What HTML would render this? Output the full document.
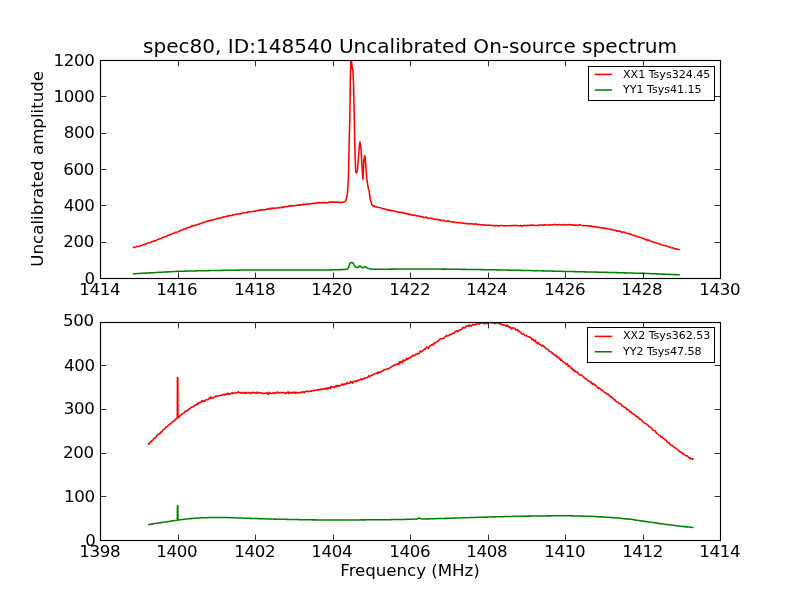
<!DOCTYPE html>
<html><head><meta charset="utf-8"><title>spec80</title>
<style>html,body{margin:0;padding:0;background:#fff;overflow:hidden}svg{display:block}text{font-family:"DejaVu Sans","Liberation Sans",sans-serif;fill:#000}</style></head><body>
<svg width="800" height="600" viewBox="0 0 800 600">
<rect width="800" height="600" fill="#fff"/>
<clipPath id="c1"><rect x="100.50" y="60.50" width="620.00" height="218.00"/></clipPath>
<g clip-path="url(#c1)" fill="none" stroke-width="1.55" stroke-linejoin="round" stroke-linecap="square">
<polyline stroke="#f00" points="133.50,247.49 134.30,247.47 135.10,247.12 135.90,246.89 136.70,246.55 137.50,246.49 138.30,246.56 139.11,246.19 139.91,246.09 140.71,245.68 141.51,245.46 142.31,245.17 143.11,244.51 143.91,244.80 144.71,244.46 145.51,244.19 146.31,243.44 147.11,243.15 147.91,243.06 148.71,242.87 149.52,242.75 150.32,242.38 151.12,242.22 151.92,241.66 152.72,241.57 153.52,241.29 154.32,240.76 155.12,240.97 155.92,240.41 156.72,240.24 157.52,239.53 158.32,239.19 159.12,238.97 159.93,238.70 160.73,238.55 161.53,238.15 162.33,237.68 163.13,237.24 163.93,237.02 164.73,237.08 165.53,236.32 166.33,236.23 167.13,235.95 167.93,235.20 168.73,235.22 169.53,235.18 170.34,234.13 171.14,234.18 171.94,233.91 172.74,233.43 173.54,233.40 174.34,232.96 175.14,232.34 175.94,232.53 176.74,232.18 177.54,231.93 178.34,231.72 179.14,231.17 179.94,230.81 180.75,230.19 181.55,230.31 182.35,229.73 183.15,229.46 183.95,228.98 184.75,228.75 185.55,228.54 186.35,228.65 187.15,227.62 187.95,227.46 188.75,227.54 189.55,227.51 190.35,227.04 191.15,226.21 191.96,225.79 192.76,226.14 193.56,225.62 194.36,225.26 195.16,225.45 195.96,225.20 196.76,224.72 197.56,224.48 198.36,224.25 199.16,224.25 199.96,223.77 200.76,223.49 201.56,223.24 202.37,222.52 203.17,222.90 203.97,222.58 204.77,222.24 205.57,221.44 206.37,221.50 207.17,221.58 207.97,220.76 208.77,220.89 209.57,220.92 210.37,220.18 211.17,220.60 211.97,220.14 212.78,219.76 213.58,219.65 214.38,219.50 215.18,219.17 215.98,219.19 216.78,218.58 217.58,218.43 218.38,218.54 219.18,218.12 219.98,217.72 220.78,217.92 221.58,217.84 222.38,217.22 223.19,216.83 223.99,216.91 224.79,216.72 225.59,216.50 226.39,216.70 227.19,215.98 227.99,216.31 228.79,215.57 229.59,215.50 230.39,215.64 231.19,215.58 231.99,215.35 232.79,215.08 233.60,214.87 234.40,214.71 235.20,214.64 236.00,214.31 236.80,214.26 237.60,214.16 238.40,213.89 239.20,213.90 240.00,213.71 240.80,213.88 241.60,213.36 242.40,213.05 243.20,212.91 244.01,212.85 244.81,212.91 245.61,212.50 246.41,212.52 247.21,212.70 248.01,211.59 248.81,211.78 249.61,211.94 250.41,211.85 251.21,211.68 252.01,211.40 252.81,211.51 253.61,211.30 254.42,211.00 255.22,211.52 256.02,210.94 256.82,210.62 257.62,210.59 258.42,210.44 259.22,210.36 260.02,209.65 260.82,210.02 261.62,210.23 262.42,209.64 263.22,209.76 264.02,209.87 264.83,209.73 265.63,209.76 266.43,208.94 267.23,209.12 268.03,209.01 268.83,209.11 269.63,209.10 270.43,208.16 271.23,208.88 272.03,208.21 272.83,208.57 273.63,207.98 274.43,208.23 275.24,208.35 276.04,207.94 276.84,207.91 277.64,207.93 278.44,207.68 279.24,207.52 280.04,207.77 280.84,207.56 281.64,207.16 282.44,207.72 283.24,206.76 284.04,207.11 284.84,206.74 285.65,206.72 286.45,206.75 287.25,206.54 288.05,206.52 288.85,205.94 289.65,205.84 290.45,206.21 291.25,205.76 292.05,205.64 292.85,205.44 293.65,205.94 294.45,205.73 295.25,205.79 296.05,205.16 296.86,205.27 297.66,204.92 298.46,205.24 299.26,205.32 300.06,204.68 300.86,205.12 301.66,204.90 302.46,204.55 303.26,204.06 304.06,204.71 304.86,204.29 305.66,204.09 306.46,204.22 307.27,204.13 308.07,204.28 308.87,203.64 309.67,204.03 310.47,204.02 311.27,203.93 312.07,203.49 312.87,203.29 313.67,203.60 314.47,203.32 315.27,203.25 316.07,203.46 316.87,203.02 317.68,202.50 318.48,202.86 319.28,202.47 320.08,202.99 320.88,202.82 321.68,202.56 322.48,202.64 323.28,202.77 324.08,202.55 324.88,202.78 325.68,202.43 326.48,202.63 327.28,202.69 328.09,202.68 328.89,202.15 329.69,202.46 330.49,201.83 331.29,201.99 332.09,201.78 332.89,202.43 333.69,201.92 334.49,202.18 335.29,202.14 336.09,202.19 336.89,202.07 337.69,202.27 338.50,202.63 339.30,202.28 340.10,202.41 340.90,202.56 341.70,202.34 342.50,202.15 343.30,202.36 345.80,200.80 347.30,195.00 348.40,178.30 349.30,136.70 349.80,120.00 350.40,75.00 351.00,58.00 351.60,61.00 352.20,68.50 352.90,69.50 353.60,85.00 354.30,120.00 355.00,153.30 355.70,171.70 356.30,173.00 357.50,170.00 358.70,153.30 359.60,143.80 360.00,142.00 360.40,143.80 361.30,153.30 362.70,178.30 363.00,179.20 363.70,161.70 364.40,156.70 364.70,155.60 365.00,156.70 365.50,161.70 366.70,178.30 368.30,188.30 369.20,190.80 370.00,198.30 371.70,204.20 373.30,206.24 374.10,205.86 374.90,206.31 375.70,206.88 376.50,207.06 377.30,207.11 378.10,207.51 378.90,207.60 379.70,207.54 380.50,207.70 381.30,208.15 382.10,208.74 382.90,208.65 383.70,208.82 384.50,209.07 385.30,209.12 386.10,209.63 386.90,209.59 387.70,210.10 388.50,209.66 389.31,210.41 390.11,210.35 390.91,210.21 391.71,210.94 392.51,210.85 393.31,210.56 394.11,210.99 394.91,211.37 395.71,211.34 396.51,211.75 397.31,211.88 398.11,212.00 398.91,212.07 399.71,212.44 400.51,212.44 401.31,212.56 402.11,212.16 402.91,212.98 403.71,213.23 404.51,213.05 405.31,213.18 406.11,213.88 406.91,213.24 407.71,213.90 408.51,214.51 409.31,213.94 410.11,214.47 410.91,214.91 411.71,214.65 412.51,214.97 413.31,215.22 414.11,214.99 414.91,215.34 415.71,215.59 416.51,215.88 417.31,215.86 418.11,215.98 418.91,215.96 419.72,216.27 420.52,216.70 421.32,216.68 422.12,216.62 422.92,216.78 423.72,217.70 424.52,217.52 425.32,217.56 426.12,217.00 426.92,217.85 427.72,217.97 428.52,218.38 429.32,218.25 430.12,218.29 430.92,218.56 431.72,218.16 432.52,218.96 433.32,218.95 434.12,218.86 434.92,219.45 435.72,219.69 436.52,219.12 437.32,219.41 438.12,219.76 438.92,219.87 439.72,219.87 440.52,219.87 441.32,220.68 442.12,220.57 442.92,220.21 443.72,220.30 444.52,221.10 445.32,221.07 446.12,221.38 446.92,221.29 447.72,221.04 448.52,221.42 449.32,221.01 450.13,221.44 450.93,221.71 451.73,221.95 452.53,221.79 453.33,222.04 454.13,222.28 454.93,222.37 455.73,222.53 456.53,222.54 457.33,222.52 458.13,222.86 458.93,222.79 459.73,222.69 460.53,222.82 461.33,223.04 462.13,223.10 462.93,223.24 463.73,223.28 464.53,223.40 465.33,223.41 466.13,223.24 466.93,223.68 467.73,223.89 468.53,223.83 469.33,223.76 470.13,223.97 470.93,223.73 471.73,223.59 472.53,224.08 473.33,223.93 474.13,224.36 474.93,224.01 475.73,223.73 476.53,224.14 477.33,224.77 478.13,224.39 478.93,224.23 479.73,224.42 480.54,224.75 481.34,224.79 482.14,224.78 482.94,225.12 483.74,225.00 484.54,224.89 485.34,225.08 486.14,225.36 486.94,225.26 487.74,225.32 488.54,224.91 489.34,225.16 490.14,225.40 490.94,225.22 491.74,225.56 492.54,225.50 493.34,225.61 494.14,225.40 494.94,226.04 495.74,225.78 496.54,225.48 497.34,225.57 498.14,226.14 498.94,225.51 499.74,225.79 500.54,225.82 501.34,225.61 502.14,225.36 502.94,225.67 503.74,225.71 504.54,225.89 505.34,225.82 506.14,225.65 506.94,225.84 507.74,225.78 508.54,225.71 509.34,225.68 510.14,225.62 510.95,225.83 511.75,225.45 512.55,225.55 513.35,225.69 514.15,225.37 514.95,225.60 515.75,225.25 516.55,225.55 517.35,225.82 518.15,225.82 518.95,225.69 519.75,225.65 520.55,225.39 521.35,226.10 522.15,225.80 522.95,225.92 523.75,225.47 524.55,225.61 525.35,225.23 526.15,225.79 526.95,225.80 527.75,225.16 528.55,225.54 529.35,225.66 530.15,225.11 530.95,225.07 531.75,225.21 532.55,225.28 533.35,225.09 534.15,225.38 534.95,225.40 535.75,225.46 536.55,225.45 537.35,225.60 538.15,225.50 538.95,224.94 539.75,225.09 540.55,224.95 541.35,224.93 542.16,225.13 542.96,225.13 543.76,225.22 544.56,224.74 545.36,224.79 546.16,225.04 546.96,224.98 547.76,224.93 548.56,224.97 549.36,224.79 550.16,225.09 550.96,225.00 551.76,224.88 552.56,224.74 553.36,224.83 554.16,224.26 554.96,224.63 555.76,224.84 556.56,224.49 557.36,224.86 558.16,224.84 558.96,224.50 559.76,224.74 560.56,224.73 561.36,224.90 562.16,224.94 562.96,224.80 563.76,224.63 564.56,224.79 565.36,224.82 566.16,225.01 566.96,224.92 567.76,224.71 568.56,224.59 569.36,224.82 570.16,224.76 570.96,224.69 571.76,224.93 572.57,224.87 573.37,225.02 574.17,225.13 574.97,224.95 575.77,225.58 576.57,225.02 577.37,225.36 578.17,225.17 578.97,225.41 579.77,224.67 580.57,225.06 581.37,225.31 582.17,225.43 582.97,225.87 583.77,225.48 584.57,225.76 585.37,225.71 586.17,225.83 586.97,225.82 587.77,225.76 588.57,225.99 589.37,225.74 590.17,226.34 590.97,225.96 591.77,226.34 592.57,226.87 593.37,226.46 594.17,226.63 594.97,227.00 595.77,226.87 596.57,226.81 597.37,227.17 598.17,227.36 598.97,227.51 599.77,227.31 600.57,227.99 601.37,228.09 602.17,227.85 602.98,228.03 603.78,228.00 604.58,228.54 605.38,228.21 606.18,228.65 606.98,228.54 607.78,228.63 608.58,229.09 609.38,229.38 610.18,229.24 610.98,229.25 611.78,229.74 612.58,229.72 613.38,229.97 614.18,230.41 614.98,230.50 615.78,230.31 616.58,231.11 617.38,230.79 618.18,231.14 618.98,231.02 619.78,231.34 620.58,231.16 621.38,232.13 622.18,232.24 622.98,231.89 623.78,232.04 624.58,232.24 625.38,233.08 626.18,232.95 626.98,233.27 627.78,233.45 628.58,233.73 629.38,233.77 630.18,234.26 630.98,234.19 631.78,234.74 632.58,235.08 633.39,235.37 634.19,235.47 634.99,235.58 635.79,236.07 636.59,236.19 637.39,236.90 638.19,236.99 638.99,237.05 639.79,237.23 640.59,237.44 641.39,237.65 642.19,238.04 642.99,238.45 643.79,238.78 644.59,239.07 645.39,239.68 646.19,239.35 646.99,239.79 647.79,240.68 648.59,239.94 649.39,240.52 650.19,240.96 650.99,241.23 651.79,241.57 652.59,241.71 653.39,242.12 654.19,242.32 654.99,242.75 655.79,242.43 656.59,242.91 657.39,243.37 658.19,243.39 658.99,243.64 659.79,244.25 660.59,244.22 661.39,244.74 662.19,245.01 662.99,245.15 663.80,245.43 664.60,245.53 665.40,245.48 666.20,246.02 667.00,246.35 667.80,246.37 668.60,246.69 669.40,247.11 670.20,246.98 671.00,247.54 671.80,248.04 672.60,247.73 673.40,248.11 674.20,248.26 675.00,248.86 675.80,248.81 676.60,249.15 677.40,249.02 678.20,249.38 679.00,249.60"/>
<polyline stroke="#008000" points="133.50,273.80 135.51,273.68 137.53,273.57 139.54,273.45 141.56,273.34 143.57,273.23 145.59,273.12 147.60,273.00 149.61,272.89 151.63,272.78 153.64,272.67 155.66,272.56 157.67,272.45 159.69,272.34 161.70,272.22 163.71,272.10 165.73,271.98 167.74,271.87 169.76,271.76 171.77,271.65 173.79,271.55 175.80,271.46 177.81,271.38 179.83,271.31 181.84,271.24 183.86,271.18 185.87,271.12 187.89,271.07 189.90,271.01 191.91,270.96 193.93,270.91 195.94,270.86 197.96,270.82 199.97,270.78 201.99,270.73 204.00,270.69 206.01,270.66 208.03,270.62 210.04,270.58 212.06,270.55 214.07,270.52 216.09,270.48 218.10,270.45 220.11,270.41 222.13,270.38 224.14,270.35 226.16,270.31 228.17,270.28 230.19,270.24 232.20,270.21 234.21,270.18 236.23,270.15 238.24,270.12 240.26,270.10 242.27,270.07 244.29,270.05 246.30,270.04 248.31,270.02 250.33,270.01 252.34,270.00 254.36,270.00 256.37,270.00 258.39,270.00 260.40,270.00 262.41,270.00 264.43,270.00 266.44,270.00 268.46,270.00 270.47,270.00 272.49,270.00 274.50,270.00 276.51,270.00 278.53,270.00 280.54,270.00 282.56,270.00 284.57,270.00 286.59,270.00 288.60,270.00 290.61,270.00 292.63,270.00 294.64,270.00 296.66,270.00 298.67,270.00 300.69,270.00 302.70,270.00 304.71,270.00 306.73,270.00 308.74,270.00 310.76,270.00 312.77,270.00 314.79,270.00 316.80,270.00 318.81,270.00 320.83,270.00 322.84,269.99 324.86,269.97 326.87,269.95 328.89,269.92 330.90,269.88 332.91,269.84 334.93,269.79 336.94,269.74 338.96,269.68 340.97,269.62 342.99,269.56 345.00,269.50 347.50,269.00 348.80,266.90 350.00,263.10 351.30,262.50 353.10,262.90 354.40,265.60 356.30,267.50 358.10,267.30 360.00,266.00 361.90,267.30 363.10,268.00 364.80,266.50 366.90,267.80 370.00,269.10 372.50,269.35 374.50,269.32 376.51,269.29 378.51,269.27 380.51,269.24 382.52,269.22 384.52,269.19 386.52,269.17 388.53,269.15 390.53,269.13 392.53,269.11 394.54,269.10 396.54,269.08 398.54,269.07 400.55,269.06 402.55,269.05 404.55,269.04 406.56,269.03 408.56,269.02 410.56,269.01 412.57,269.01 414.57,269.00 416.57,269.00 418.58,269.00 420.58,269.00 422.58,269.00 424.58,269.01 426.59,269.01 428.59,269.02 430.59,269.03 432.60,269.04 434.60,269.05 436.60,269.07 438.61,269.08 440.61,269.10 442.61,269.12 444.62,269.14 446.62,269.16 448.62,269.18 450.63,269.21 452.63,269.23 454.63,269.26 456.64,269.28 458.64,269.31 460.64,269.33 462.65,269.36 464.65,269.39 466.65,269.42 468.66,269.44 470.66,269.47 472.66,269.50 474.67,269.53 476.67,269.55 478.67,269.58 480.68,269.61 482.68,269.64 484.68,269.67 486.69,269.70 488.69,269.73 490.69,269.76 492.70,269.80 494.70,269.83 496.70,269.87 498.71,269.91 500.71,269.94 502.71,269.98 504.72,270.02 506.72,270.06 508.72,270.11 510.73,270.15 512.73,270.19 514.73,270.24 516.74,270.28 518.74,270.33 520.74,270.37 522.75,270.42 524.75,270.46 526.75,270.51 528.75,270.56 530.76,270.60 532.76,270.65 534.76,270.70 536.77,270.75 538.77,270.80 540.77,270.84 542.78,270.89 544.78,270.94 546.78,270.99 548.79,271.04 550.79,271.08 552.79,271.13 554.80,271.18 556.80,271.23 558.80,271.27 560.81,271.32 562.81,271.36 564.81,271.41 566.82,271.46 568.82,271.50 570.82,271.55 572.83,271.59 574.83,271.64 576.83,271.68 578.84,271.73 580.84,271.77 582.84,271.82 584.85,271.86 586.85,271.91 588.85,271.96 590.86,272.00 592.86,272.05 594.86,272.10 596.87,272.14 598.87,272.19 600.87,272.24 602.88,272.29 604.88,272.34 606.88,272.39 608.89,272.44 610.89,272.49 612.89,272.54 614.90,272.59 616.90,272.64 618.90,272.69 620.91,272.75 622.91,272.80 624.91,272.86 626.92,272.91 628.92,272.97 630.92,273.03 632.92,273.09 634.93,273.15 636.93,273.21 638.93,273.27 640.94,273.33 642.94,273.39 644.94,273.46 646.95,273.53 648.95,273.60 650.95,273.67 652.96,273.74 654.96,273.82 656.96,273.89 658.97,273.97 660.97,274.05 662.97,274.13 664.98,274.21 666.98,274.29 668.98,274.38 670.99,274.46 672.99,274.54 674.99,274.63 677.00,274.71 679.00,274.80"/>
</g>
<path d="M178.5 278.0v-5.4M178.5 61.0v5.4M255.5 278.0v-5.4M255.5 61.0v5.4M333.5 278.0v-5.4M333.5 61.0v5.4M410.5 278.0v-5.4M410.5 61.0v5.4M488.5 278.0v-5.4M488.5 61.0v5.4M565.5 278.0v-5.4M565.5 61.0v5.4M643.5 278.0v-5.4M643.5 61.0v5.4M101.0 242.5h5.4M720.0 242.5h-5.4M101.0 205.5h5.4M720.0 205.5h-5.4M101.0 169.5h5.4M720.0 169.5h-5.4M101.0 133.5h5.4M720.0 133.5h-5.4M101.0 96.5h5.4M720.0 96.5h-5.4" stroke="#000" stroke-opacity="0.8" stroke-width="1" fill="none"/>
<rect x="100.5" y="60.5" width="620.0" height="218.0" fill="none" stroke="#000" stroke-width="1.15"/>
<g font-size="16.67" letter-spacing="-0.37" text-anchor="middle">
<text x="99.75" y="294.93">1414</text>
<text x="176.75" y="294.93">1416</text>
<text x="254.75" y="294.93">1418</text>
<text x="331.75" y="294.93">1420</text>
<text x="409.75" y="294.93">1422</text>
<text x="486.75" y="294.93">1424</text>
<text x="564.75" y="294.93">1426</text>
<text x="641.75" y="294.93">1428</text>
<text x="719.75" y="294.93">1430</text>
</g><g font-size="16.67" letter-spacing="-0.37" text-anchor="end">
<text x="94.80" y="283.88">0</text>
<text x="93.90" y="246.92">200</text>
<text x="94.40" y="210.75">400</text>
<text x="93.90" y="174.79">600</text>
<text x="94.40" y="138.43">800</text>
<text x="94.40" y="102.06">1000</text>
<text x="94.40" y="65.70">1200</text>
</g>
<rect x="588.5" y="66.5" width="126.0" height="34.0" fill="#fff" stroke="#000" stroke-width="1" shape-rendering="crispEdges"/>
<path d="M595.55 74.40h15.6" stroke="#f00" stroke-width="1.55" stroke-linecap="square"/>
<text x="623.0" y="77.80" font-size="11.06">XX1 Tsys324.45</text>
<path d="M595.55 90.05h15.6" stroke="#008000" stroke-width="1.55" stroke-linecap="square"/>
<text x="623.0" y="92.65" font-size="11.06">YY1 Tsys41.15</text>
<clipPath id="c2"><rect x="100.50" y="322.50" width="620.00" height="218.00"/></clipPath>
<g clip-path="url(#c2)" fill="none" stroke-width="1.55" stroke-linejoin="round" stroke-linecap="square">
<polyline stroke="#f00" points="148.40,443.83 149.12,444.13 149.83,443.23 150.55,441.64 151.26,441.74 151.97,440.73 152.69,440.21 153.41,439.48 154.12,438.15 154.84,437.88 155.55,437.75 156.27,436.36 156.98,435.52 157.69,434.72 158.41,434.08 159.12,433.94 159.84,433.74 160.56,432.63 161.27,431.90 161.99,431.93 162.70,430.31 163.41,429.60 164.13,429.38 164.84,428.74 165.56,427.54 166.28,426.84 166.99,426.73 167.71,426.09 168.42,424.90 169.13,424.67 169.85,423.93 170.56,423.68 171.28,422.86 172.00,422.27 172.71,421.57 173.43,421.50 174.14,421.03 174.85,419.80 175.57,419.67 176.28,418.49 177.00,418.23 177.30,417.50 177.45,377.50 177.85,377.50 178.00,417.40 178.30,417.58 179.00,417.31 179.70,416.03 180.40,415.59 181.10,415.15 181.80,413.96 182.50,414.00 183.20,413.20 183.90,413.08 184.60,411.98 185.30,411.13 186.00,411.41 186.70,410.99 187.40,410.18 188.10,410.25 188.80,409.31 189.50,408.70 190.20,408.65 190.90,407.36 191.61,407.24 192.31,407.03 193.01,406.91 193.71,406.04 194.41,405.77 195.11,404.93 195.81,404.88 196.51,405.00 197.21,403.63 197.91,404.47 198.61,402.85 199.31,402.75 200.01,402.47 200.71,402.48 201.41,401.23 202.11,400.56 202.81,401.37 203.51,401.15 204.21,400.79 204.91,401.34 205.61,400.07 206.31,399.82 207.01,399.84 207.71,399.36 208.41,399.65 209.11,398.19 209.81,398.31 210.51,396.79 211.21,398.33 211.91,397.59 212.61,397.90 213.31,398.19 214.01,397.06 214.71,396.73 215.41,396.42 216.11,396.06 216.81,395.95 217.52,396.29 218.22,395.85 218.92,395.68 219.62,395.41 220.32,395.72 221.02,395.38 221.72,394.97 222.42,395.16 223.12,394.67 223.82,394.11 224.52,395.09 225.22,394.54 225.92,393.81 226.62,394.56 227.32,394.13 228.02,393.21 228.72,394.46 229.42,393.82 230.12,393.97 230.82,393.58 231.52,393.33 232.22,392.64 232.92,393.62 233.62,393.12 234.32,392.90 235.02,393.09 235.72,392.89 236.42,393.08 237.12,392.57 237.82,392.66 238.52,391.72 239.22,392.43 239.92,392.89 240.62,393.17 241.32,392.45 242.02,392.55 242.73,393.29 243.43,392.48 244.13,392.94 244.83,393.35 245.53,392.65 246.23,393.17 246.93,392.35 247.63,392.75 248.33,392.64 249.03,392.73 249.73,393.18 250.43,393.73 251.13,392.44 251.83,392.49 252.53,392.97 253.23,392.33 253.93,393.01 254.63,393.07 255.33,392.73 256.03,393.10 256.73,392.24 257.43,393.25 258.13,392.29 258.83,392.67 259.53,392.75 260.23,392.83 260.93,393.39 261.63,393.08 262.33,392.89 263.03,393.31 263.73,393.78 264.43,393.12 265.13,393.29 265.83,393.68 266.53,393.28 267.23,392.63 267.93,394.25 268.64,394.14 269.34,392.35 270.04,393.18 270.74,393.37 271.44,393.59 272.14,393.44 272.84,393.01 273.54,392.63 274.24,393.09 274.94,393.45 275.64,392.50 276.34,392.48 277.04,392.87 277.74,392.02 278.44,392.71 279.14,392.62 279.84,392.99 280.54,392.50 281.24,392.42 281.94,392.63 282.64,392.78 283.34,392.51 284.04,392.81 284.74,393.12 285.44,393.31 286.14,393.53 286.84,392.46 287.54,392.62 288.24,391.74 288.94,393.61 289.64,392.49 290.34,392.79 291.04,393.02 291.74,392.22 292.44,393.00 293.14,392.79 293.84,392.02 294.55,392.92 295.25,393.28 295.95,391.94 296.65,393.05 297.35,392.74 298.05,392.79 298.75,392.71 299.45,393.01 300.15,392.27 300.85,392.66 301.55,392.02 302.25,392.42 302.95,391.66 303.65,391.87 304.35,392.56 305.05,391.91 305.75,391.56 306.45,391.04 307.15,391.10 307.85,391.44 308.55,391.67 309.25,391.36 309.95,391.31 310.65,390.97 311.35,391.47 312.05,390.62 312.75,390.44 313.45,390.96 314.15,390.50 314.85,390.24 315.55,390.00 316.25,390.03 316.95,390.29 317.65,390.06 318.35,389.27 319.05,389.86 319.75,389.63 320.46,389.00 321.16,389.65 321.86,389.07 322.56,388.93 323.26,389.30 323.96,389.40 324.66,388.40 325.36,388.76 326.06,388.05 326.76,389.32 327.46,387.95 328.16,388.56 328.86,387.61 329.56,388.11 330.26,388.59 330.96,386.35 331.66,387.13 332.36,387.40 333.06,386.99 333.76,386.58 334.46,387.67 335.16,386.60 335.86,385.68 336.56,386.62 337.26,385.31 337.96,386.41 338.66,385.46 339.36,385.60 340.06,385.92 340.76,385.23 341.46,384.37 342.16,384.04 342.86,385.14 343.56,384.75 344.26,383.86 344.96,384.42 345.67,384.06 346.37,383.94 347.07,382.44 347.77,383.13 348.47,383.48 349.17,383.22 349.87,383.10 350.57,381.41 351.27,382.41 351.97,382.38 352.67,383.12 353.37,381.36 354.07,381.45 354.77,381.43 355.47,381.63 356.17,380.83 356.87,381.36 357.57,380.28 358.27,380.55 358.97,379.98 359.67,380.08 360.37,379.47 361.07,378.82 361.77,379.81 362.47,379.20 363.17,378.56 363.87,378.64 364.57,378.74 365.27,377.57 365.97,377.70 366.67,377.72 367.37,377.44 368.07,376.76 368.77,375.65 369.47,376.92 370.17,376.21 370.87,375.78 371.58,375.35 372.28,375.32 372.98,374.71 373.68,374.15 374.38,374.00 375.08,373.79 375.78,373.49 376.48,372.95 377.18,373.51 377.88,372.31 378.58,372.94 379.28,371.86 379.98,372.22 380.68,372.41 381.38,371.56 382.08,370.82 382.78,370.89 383.48,370.64 384.18,369.44 384.88,369.67 385.58,369.73 386.28,369.12 386.98,369.07 387.68,369.07 388.38,368.77 389.08,368.52 389.78,368.04 390.48,367.30 391.18,367.10 391.88,366.65 392.58,366.30 393.28,366.03 393.98,364.94 394.68,365.28 395.38,365.09 396.08,364.28 396.78,364.40 397.49,364.32 398.19,363.65 398.89,364.40 399.59,361.75 400.29,362.58 400.99,361.43 401.69,362.46 402.39,362.94 403.09,360.04 403.79,360.99 404.49,360.82 405.19,360.06 405.89,360.13 406.59,358.38 407.29,359.56 407.99,358.95 408.69,358.41 409.39,357.74 410.09,357.99 410.79,357.05 411.49,357.03 412.19,356.28 412.89,355.03 413.59,355.76 414.29,355.50 414.99,355.39 415.69,354.17 416.39,354.20 417.09,354.12 417.79,353.48 418.49,353.63 419.19,353.60 419.89,351.69 420.59,350.75 421.29,351.76 421.99,351.68 422.69,350.94 423.40,350.46 424.10,349.30 424.80,348.82 425.50,349.23 426.20,347.86 426.90,346.97 427.60,346.97 428.30,348.37 429.00,347.66 429.70,345.87 430.40,345.43 431.10,345.51 431.80,344.56 432.50,345.22 433.20,344.06 433.90,343.10 434.60,343.95 435.30,342.51 436.00,342.52 436.70,341.97 437.40,341.39 438.10,341.31 438.80,340.35 439.50,339.32 440.20,338.71 440.90,338.82 441.60,338.69 442.30,338.70 443.00,338.35 443.70,338.24 444.40,337.62 445.10,336.75 445.80,336.42 446.50,335.27 447.20,335.97 447.90,335.96 448.61,335.61 449.31,334.90 450.01,334.51 450.71,334.76 451.41,333.90 452.11,333.94 452.81,333.51 453.51,332.96 454.21,333.22 454.91,331.83 455.61,331.61 456.31,331.02 457.01,330.69 457.71,331.65 458.41,331.40 459.11,330.08 459.81,330.02 460.51,329.99 461.21,329.43 461.91,329.29 462.61,327.55 463.31,327.55 464.01,327.83 464.71,328.06 465.41,326.99 466.11,326.15 466.81,326.14 467.51,325.70 468.21,325.34 468.91,326.46 469.61,325.05 470.31,325.23 471.01,326.28 471.71,325.55 472.41,324.90 473.11,324.20 473.81,324.62 474.52,325.16 475.22,324.44 475.92,324.66 476.62,323.86 477.32,323.97 478.02,323.44 478.72,323.68 479.42,324.07 480.12,322.41 480.82,323.11 481.52,323.21 482.22,322.68 482.92,322.77 483.62,323.36 484.32,324.02 485.02,323.20 485.72,322.99 486.42,321.89 487.12,323.86 487.82,322.78 488.52,322.70 489.22,322.06 489.92,322.67 490.62,322.08 491.32,322.77 492.02,323.03 492.72,322.82 493.42,323.02 494.12,322.43 494.82,323.81 495.52,322.69 496.22,322.11 496.92,323.12 497.62,322.88 498.32,322.84 499.02,323.34 499.72,323.86 500.43,323.19 501.13,323.97 501.83,325.07 502.53,324.86 503.23,324.62 503.93,325.03 504.63,325.15 505.33,325.46 506.03,326.18 506.73,325.99 507.43,324.97 508.13,326.61 508.83,326.41 509.53,327.57 510.23,327.14 510.93,327.85 511.63,329.28 512.33,327.75 513.03,328.01 513.73,328.15 514.43,327.92 515.13,328.53 515.83,330.11 516.53,329.89 517.23,329.54 517.93,330.11 518.63,331.63 519.33,331.21 520.03,331.80 520.73,332.56 521.43,333.50 522.13,334.19 522.83,334.07 523.53,333.97 524.23,334.38 524.93,335.65 525.63,335.84 526.34,335.29 527.04,336.13 527.74,336.45 528.44,336.75 529.14,336.89 529.84,336.88 530.54,337.76 531.24,337.67 531.94,339.62 532.64,339.71 533.34,339.23 534.04,341.10 534.74,341.29 535.44,340.26 536.14,342.74 536.84,342.66 537.54,343.79 538.24,342.51 538.94,343.91 539.64,344.32 540.34,344.66 541.04,345.11 541.74,346.05 542.44,345.17 543.14,345.78 543.84,346.17 544.54,347.08 545.24,347.54 545.94,348.52 546.64,348.95 547.34,349.31 548.04,349.44 548.74,350.05 549.44,351.27 550.14,351.67 550.84,351.83 551.55,352.13 552.25,353.60 552.95,353.03 553.65,354.20 554.35,355.00 555.05,354.83 555.75,355.94 556.45,355.52 557.15,357.16 557.85,357.33 558.55,357.01 559.25,358.72 559.95,358.52 560.65,360.18 561.35,359.79 562.05,360.62 562.75,361.42 563.45,361.69 564.15,362.55 564.85,362.72 565.55,363.88 566.25,364.10 566.95,364.75 567.65,363.85 568.35,366.29 569.05,366.29 569.75,365.95 570.45,367.39 571.15,368.10 571.85,368.92 572.55,368.42 573.25,370.21 573.95,369.92 574.65,371.66 575.35,370.98 576.05,371.89 576.75,371.92 577.46,372.09 578.16,373.65 578.86,374.08 579.56,374.89 580.26,375.09 580.96,374.94 581.66,374.94 582.36,375.92 583.06,376.42 583.76,376.87 584.46,378.01 585.16,378.40 585.86,378.63 586.56,379.33 587.26,379.69 587.96,380.35 588.66,381.10 589.36,381.69 590.06,381.44 590.76,381.57 591.46,383.39 592.16,383.30 592.86,384.24 593.56,383.52 594.26,384.60 594.96,385.26 595.66,385.11 596.36,386.03 597.06,387.08 597.76,387.74 598.46,388.47 599.16,387.89 599.86,388.16 600.56,389.50 601.26,390.18 601.96,390.35 602.66,390.21 603.37,391.61 604.07,392.11 604.77,392.51 605.47,392.57 606.17,393.41 606.87,394.12 607.57,394.05 608.27,394.01 608.97,395.44 609.67,396.02 610.37,396.33 611.07,397.22 611.77,397.11 612.47,397.84 613.17,398.27 613.87,399.17 614.57,400.12 615.27,399.89 615.97,401.37 616.67,401.69 617.37,401.93 618.07,402.38 618.77,403.41 619.47,403.16 620.17,403.74 620.87,403.90 621.57,405.07 622.27,405.97 622.97,406.19 623.67,406.70 624.37,407.00 625.07,407.70 625.77,407.62 626.47,409.15 627.17,409.13 627.87,409.40 628.57,410.09 629.28,410.61 629.98,411.81 630.68,412.44 631.38,412.04 632.08,413.47 632.78,413.99 633.48,413.97 634.18,414.16 634.88,414.98 635.58,415.56 636.28,416.48 636.98,416.75 637.68,416.66 638.38,418.05 639.08,417.93 639.78,419.38 640.48,419.14 641.18,419.87 641.88,420.36 642.58,421.03 643.28,422.26 643.98,422.64 644.68,423.10 645.38,423.56 646.08,423.44 646.78,424.38 647.48,424.93 648.18,425.35 648.88,426.47 649.58,426.60 650.28,427.20 650.98,427.67 651.68,427.90 652.38,429.43 653.08,430.29 653.78,430.48 654.49,430.67 655.19,430.66 655.89,432.26 656.59,433.22 657.29,433.50 657.99,434.31 658.69,435.09 659.39,435.56 660.09,435.61 660.79,436.70 661.49,437.18 662.19,436.98 662.89,437.93 663.59,438.16 664.29,439.16 664.99,439.96 665.69,439.98 666.39,440.22 667.09,441.88 667.79,442.14 668.49,443.06 669.19,442.71 669.89,444.04 670.59,444.93 671.29,445.46 671.99,445.30 672.69,446.00 673.39,446.41 674.09,447.32 674.79,447.87 675.49,448.10 676.19,448.18 676.89,449.36 677.59,449.50 678.29,450.36 678.99,450.76 679.69,451.68 680.40,452.03 681.10,452.04 681.80,452.77 682.50,453.69 683.20,453.46 683.90,454.23 684.60,454.92 685.30,455.39 686.00,455.62 686.70,455.50 687.40,455.95 688.10,456.82 688.80,457.28 689.50,458.32 690.20,457.72 690.90,458.70 691.60,458.98 692.30,458.64 693.00,459.26"/>
<polyline stroke="#008000" points="148.75,524.50 150.77,524.19 152.79,523.87 154.80,523.56 156.82,523.25 158.84,522.94 160.86,522.63 162.88,522.32 164.89,522.02 166.91,521.71 168.93,521.41 170.95,521.10 172.96,520.80 174.98,520.50 177.00,520.20 177.30,520.00 177.45,505.75 177.85,505.75 178.00,520.00 178.30,520.00 180.31,519.74 182.32,519.49 184.33,519.25 186.34,519.03 188.35,518.81 190.36,518.62 192.37,518.44 194.38,518.29 196.39,518.16 198.40,518.05 200.41,517.95 202.42,517.85 204.43,517.76 206.44,517.67 208.45,517.59 210.46,517.52 212.47,517.47 214.48,517.43 216.49,517.41 218.50,517.40 220.51,517.41 222.52,517.44 224.53,517.49 226.54,517.54 228.55,517.60 230.56,517.67 232.57,517.74 234.58,517.82 236.59,517.90 238.60,517.97 240.61,518.04 242.62,518.10 244.63,518.16 246.64,518.23 248.65,518.29 250.66,518.36 252.67,518.43 254.68,518.50 256.69,518.56 258.70,518.63 260.71,518.70 262.72,518.77 264.73,518.84 266.74,518.90 268.75,518.96 270.76,519.02 272.77,519.08 274.78,519.13 276.79,519.18 278.80,519.23 280.81,519.27 282.82,519.31 284.83,519.35 286.84,519.39 288.85,519.43 290.86,519.47 292.87,519.51 294.88,519.55 296.89,519.59 298.91,519.63 300.92,519.66 302.93,519.70 304.94,519.73 306.95,519.77 308.96,519.80 310.97,519.83 312.98,519.86 314.99,519.88 317.00,519.91 319.01,519.93 321.02,519.95 323.03,519.96 325.04,519.98 327.05,519.99 329.06,519.99 331.07,520.00 333.08,520.00 335.09,520.00 337.10,520.00 339.11,519.99 341.12,519.99 343.13,519.98 345.14,519.97 347.15,519.97 349.16,519.96 351.17,519.95 353.18,519.94 355.19,519.93 357.20,519.91 359.21,519.90 361.22,519.89 363.23,519.88 365.24,519.86 367.25,519.85 369.26,519.83 371.27,519.82 373.28,519.80 375.29,519.79 377.30,519.77 379.31,519.75 381.32,519.74 383.33,519.72 385.34,519.69 387.35,519.67 389.36,519.65 391.37,519.62 393.38,519.59 395.39,519.56 397.40,519.53 399.41,519.49 401.42,519.46 403.43,519.42 405.44,519.38 407.45,519.34 409.46,519.29 411.47,519.24 413.48,519.18 415.49,519.09 417.50,519.00 418.60,518.20 419.50,517.90 420.60,518.60 421.50,519.00 423.51,518.95 425.52,518.90 427.53,518.86 429.54,518.81 431.55,518.76 433.56,518.71 435.57,518.65 437.58,518.60 439.59,518.55 441.60,518.49 443.61,518.43 445.62,518.37 447.63,518.31 449.65,518.25 451.66,518.19 453.67,518.12 455.68,518.06 457.69,517.99 459.70,517.92 461.71,517.85 463.72,517.79 465.73,517.72 467.74,517.65 469.75,517.59 471.76,517.52 473.77,517.46 475.78,517.40 477.79,517.34 479.80,517.28 481.81,517.22 483.82,517.16 485.83,517.11 487.84,517.05 489.85,516.99 491.86,516.94 493.87,516.88 495.88,516.83 497.89,516.77 499.90,516.72 501.91,516.66 503.93,516.61 505.94,516.56 507.95,516.51 509.96,516.46 511.97,516.42 513.98,516.37 515.99,516.33 518.00,516.29 520.01,516.26 522.02,516.23 524.03,516.20 526.04,516.17 528.05,516.14 530.06,516.11 532.07,516.08 534.08,516.06 536.09,516.03 538.10,516.00 540.11,515.98 542.12,515.95 544.13,515.93 546.14,515.91 548.15,515.89 550.16,515.87 552.17,515.85 554.18,515.84 556.19,515.83 558.21,515.82 560.22,515.81 562.23,515.80 564.24,515.80 566.25,515.80 568.26,515.81 570.27,515.84 572.28,515.87 574.29,515.91 576.30,515.95 578.31,516.00 580.32,516.05 582.33,516.11 584.34,516.16 586.35,516.22 588.36,516.29 590.37,516.36 592.38,516.45 594.39,516.54 596.40,516.64 598.41,516.74 600.42,516.86 602.43,516.97 604.44,517.09 606.45,517.21 608.46,517.34 610.47,517.48 612.49,517.62 614.50,517.77 616.51,517.93 618.52,518.10 620.53,518.28 622.54,518.47 624.55,518.66 626.56,518.86 628.57,519.08 630.58,519.33 632.59,519.59 634.60,519.87 636.61,520.17 638.62,520.47 640.63,520.78 642.64,521.09 644.65,521.39 646.66,521.68 648.67,521.96 650.68,522.25 652.69,522.53 654.70,522.82 656.71,523.11 658.72,523.39 660.73,523.67 662.74,523.95 664.75,524.22 666.77,524.48 668.78,524.73 670.79,524.99 672.80,525.23 674.81,525.48 676.82,525.72 678.83,525.95 680.84,526.19 682.85,526.42 684.86,526.64 686.87,526.86 688.88,527.08 690.89,527.29 692.90,527.50"/>
</g>
<path d="M178.5 540.0v-5.4M178.5 323.0v5.4M255.5 540.0v-5.4M255.5 323.0v5.4M333.5 540.0v-5.4M333.5 323.0v5.4M410.5 540.0v-5.4M410.5 323.0v5.4M488.5 540.0v-5.4M488.5 323.0v5.4M565.5 540.0v-5.4M565.5 323.0v5.4M643.5 540.0v-5.4M643.5 323.0v5.4M101.0 496.5h5.4M720.0 496.5h-5.4M101.0 453.5h5.4M720.0 453.5h-5.4M101.0 409.5h5.4M720.0 409.5h-5.4M101.0 365.5h5.4M720.0 365.5h-5.4" stroke="#000" stroke-opacity="0.8" stroke-width="1" fill="none"/>
<rect x="100.5" y="322.5" width="620.0" height="218.0" fill="none" stroke="#000" stroke-width="1.15"/>
<g font-size="16.67" letter-spacing="-0.37" text-anchor="middle">
<text x="99.75" y="556.75">1398</text>
<text x="176.75" y="556.75">1400</text>
<text x="254.75" y="556.75">1402</text>
<text x="331.75" y="556.75">1404</text>
<text x="409.75" y="556.75">1406</text>
<text x="486.75" y="556.75">1408</text>
<text x="564.75" y="556.75">1410</text>
<text x="642.60" y="556.75">1412</text>
<text x="719.75" y="556.75">1414</text>
</g><g font-size="16.67" letter-spacing="-0.37" text-anchor="end">
<text x="95.40" y="545.70">0</text>
<text x="94.80" y="502.06">100</text>
<text x="93.70" y="458.03">200</text>
<text x="94.40" y="414.19">300</text>
<text x="94.80" y="371.16">400</text>
<text x="93.70" y="326.32">500</text>
</g>
<rect x="587.5" y="327.5" width="127.0" height="35.0" fill="#fff" stroke="#000" stroke-width="1" shape-rendering="crispEdges"/>
<path d="M595.55 336.40h15.6" stroke="#f00" stroke-width="1.55" stroke-linecap="square"/>
<text x="623.0" y="339.10" font-size="11.06">XX2 Tsys362.53</text>
<path d="M595.55 351.75h15.6" stroke="#008000" stroke-width="1.55" stroke-linecap="square"/>
<text x="623.0" y="354.50" font-size="11.06">YY2 Tsys47.58</text>
<text x="410" y="52.5" font-size="20.07" text-anchor="middle">spec80, ID:148540 Uncalibrated On-source spectrum</text>
<text x="410" y="576" font-size="16.67" letter-spacing="-0.04" text-anchor="middle">Frequency (MHz)</text>
<text transform="translate(42.5,168.8) rotate(-90)" font-size="16.67" text-anchor="middle">Uncalibrated amplitude</text>
</svg></body></html>
